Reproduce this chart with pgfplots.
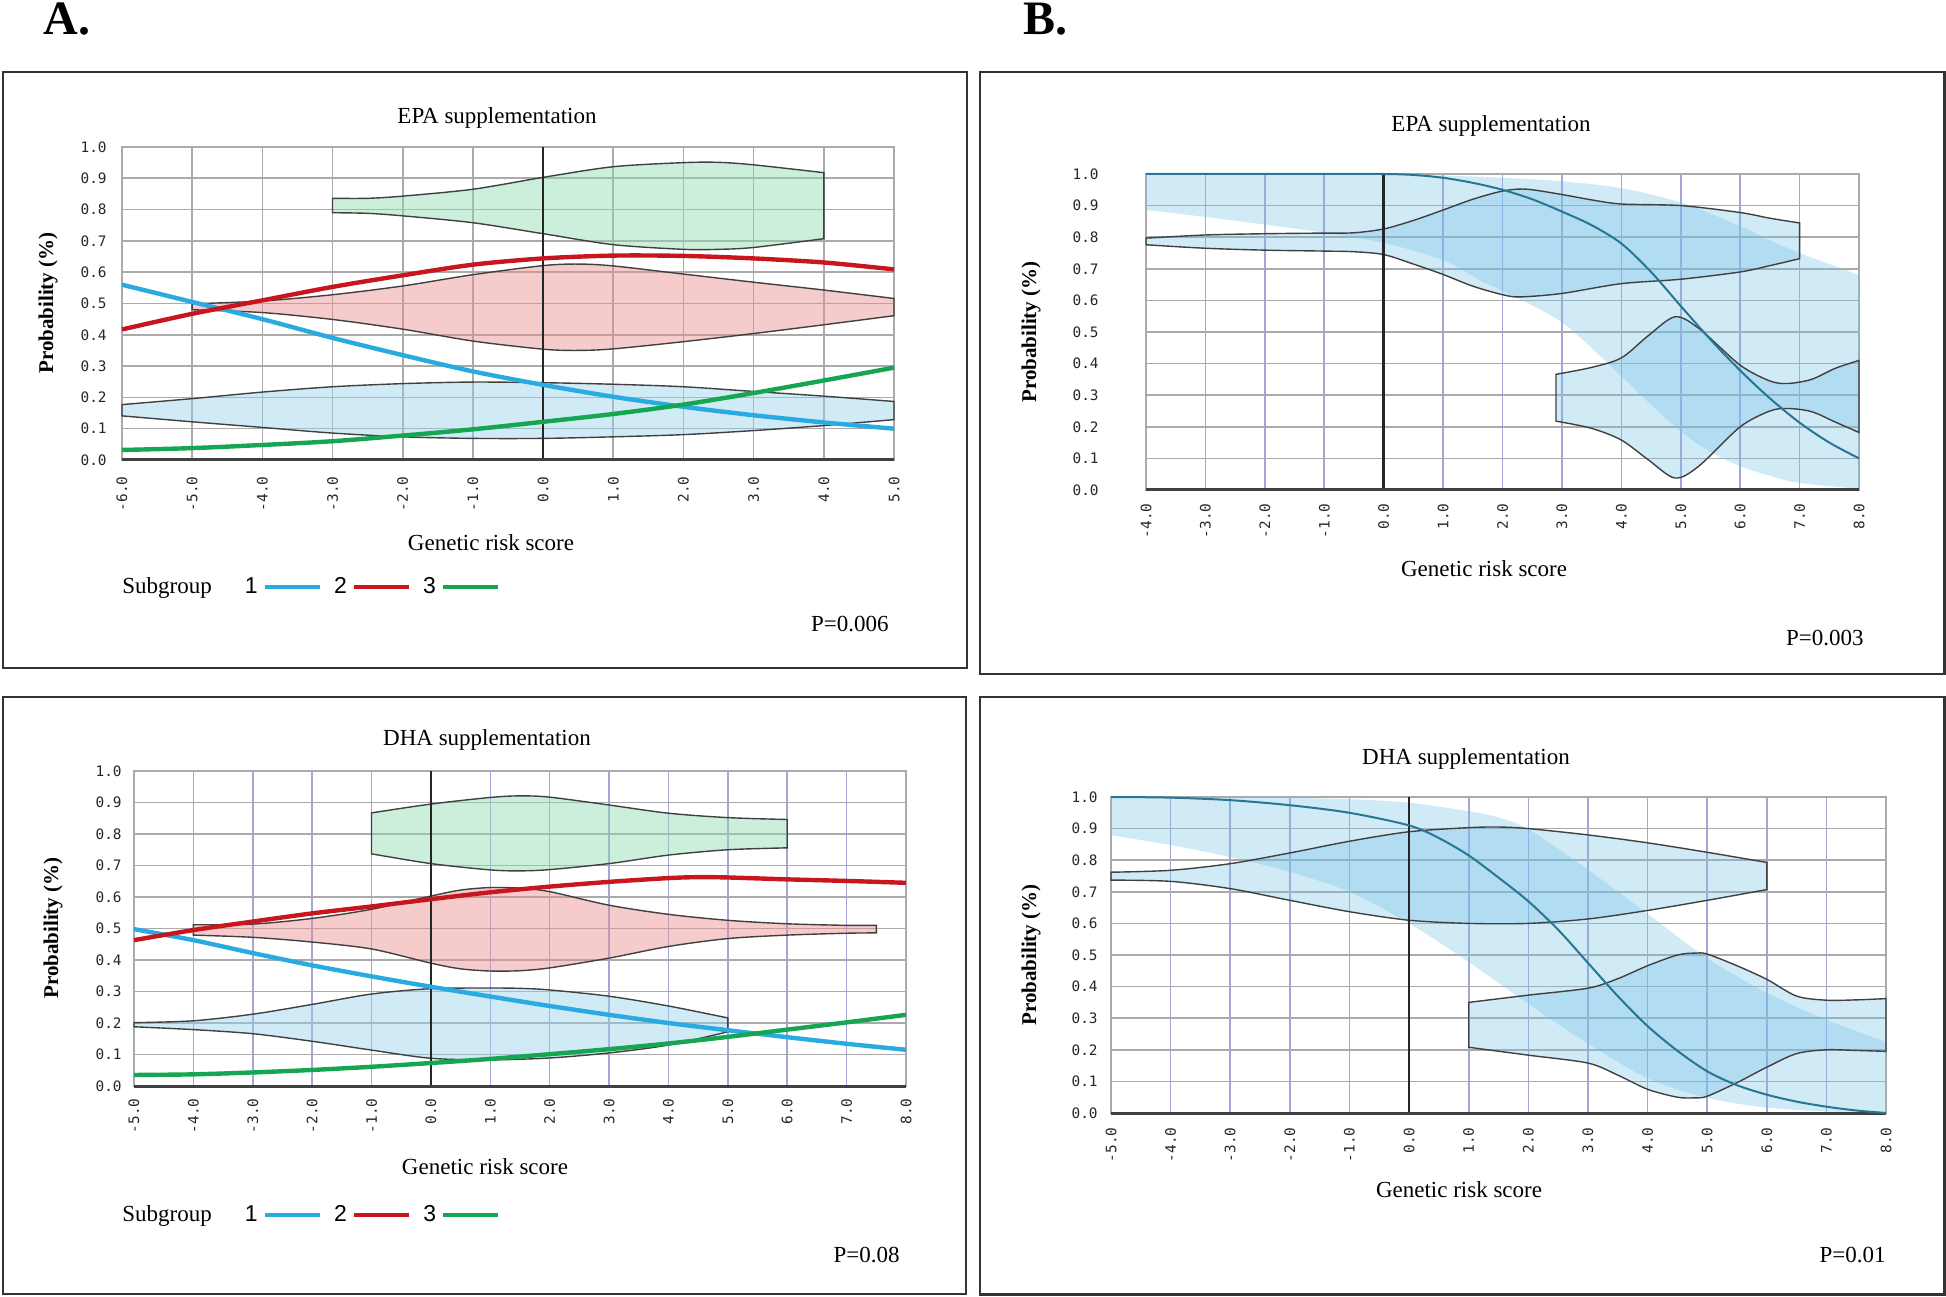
\documentclass[border=0pt]{standalone}
\usepackage{fontspec}
\setmainfont{Liberation Serif}
\setsansfont{Liberation Sans}
\setmonofont{DejaVu Sans Mono}
\usepackage{pgfplots}
\pgfplotsset{compat=1.18}
\usepgfplotslibrary{fillbetween}

\definecolor{sgblue}{RGB}{41,171,226}
\definecolor{sgred}{RGB}{200,22,30}
\definecolor{sggreen}{RGB}{22,165,80}
\definecolor{vgreen}{RGB}{140,220,175}
\definecolor{vred}{RGB}{235,140,140}
\definecolor{vblue}{RGB}{150,210,235}
\definecolor{bband}{RGB}{120,195,230}
\definecolor{bmean}{RGB}{40,118,148}
\definecolor{lav}{RGB}{165,165,215}
\definecolor{grd}{RGB}{170,170,170}

\pgfplotsset{
 panel/.style={scale only axis, clip=false, ymin=0, ymax=1,
  ytick={0,0.1,0.2,0.3,0.4,0.5,0.6,0.7,0.8,0.9,1},
  yticklabels={0.0,0.1,0.2,0.3,0.4,0.5,0.6,0.7,0.8,0.9,1.0},
  grid=major, major tick length=0pt,
  axis line style={draw=grd, line width=0.8pt},
  tick label style={font=\ttfamily\fontsize{7.2}{8}\selectfont, text=black!85},
  xticklabel style={rotate=90, anchor=east, inner sep=0pt},
  yticklabel style={anchor=east, inner sep=0pt},
  y grid style={draw=grd, line width=0.8pt},
  x grid style={draw=lav, line width=0.8pt},
 },
 viol/.style={draw=black!75, line width=0.7pt, fill opacity=0.45},
 bfill/.style={fill=bband, fill opacity=0.35},
 leg/.style={legend columns=-1, legend plot pos=right,
  legend style={draw=none, fill=none, inner sep=0pt, anchor=west,
   font=\fontsize{11.5}{13}\selectfont, nodes={inner sep=0pt},
   /tikz/every odd column/.append style={column sep=2.5pt},
   /tikz/every even column/.append style={column sep=6pt}}},
 legend image code/.code={\draw[#1] (0pt,0pt) -- (27.5pt,0pt);},
}

\begin{document}
\begin{tikzpicture}

% ---------------- A top ----------------
\begin{axis}[panel, leg, at={(61pt,418pt)}, anchor=south west, width=386pt, height=156.5pt,
  xmin=-6, xmax=5, xtick={-6,-5,-4,-3,-2,-1,0,1,2,3,4,5},
  xticklabels={-6.0,-5.0,-4.0,-3.0,-2.0,-1.0,0.0,1.0,2.0,3.0,4.0,5.0},
  x grid style={draw=grd, line width=0.8pt},
  xticklabel shift=8pt, yticklabel shift=7.5pt,
  legend style={at={(0,-0.406)}}]
\addplot[name path=atgu, draw=none, smooth, forget plot] coordinates {(-3,0.836) (-2.5,0.836) (-2,0.843) (-1,0.865) (0,0.903) (1,0.937) (2,0.95) (2.5,0.951) (3,0.943) (4,0.918)};
\addplot[name path=atgl, draw=none, smooth, forget plot] coordinates {(-3,0.79) (-2.5,0.788) (-2,0.78) (-1,0.758) (0,0.723) (1,0.688) (2,0.673) (2.5,0.673) (3,0.679) (4,0.707)};
\addplot[viol, fill=vgreen, forget plot] fill between[of=atgu and atgl];
\addplot[name path=atru, draw=none, smooth, forget plot] coordinates {(-5,0.499) (-4,0.508) (-3,0.528) (-2,0.556) (-1,0.592) (0,0.621) (0.5,0.626) (1,0.62) (2,0.594) (3,0.568) (4,0.543) (5,0.516)};
\addplot[name path=atrl, draw=none, smooth, forget plot] coordinates {(-5,0.48) (-4,0.471) (-3,0.449) (-2,0.418) (-1,0.38) (0,0.354) (0.5,0.35) (1,0.355) (2,0.378) (3,0.404) (4,0.432) (5,0.461)};
\addplot[viol, fill=vred, forget plot] fill between[of=atru and atrl];
\addplot[name path=atbu, draw=none, smooth, forget plot] coordinates {(-6,0.177) (-5,0.196) (-4,0.217) (-3,0.234) (-2,0.244) (-1,0.249) (0,0.247) (1,0.242) (2,0.234) (3,0.219) (4,0.204) (5,0.187)};
\addplot[name path=atbl, draw=none, smooth, forget plot] coordinates {(-6,0.141) (-5,0.122) (-4,0.104) (-3,0.086) (-2,0.074) (-1,0.069) (0,0.069) (1,0.074) (2,0.081) (3,0.094) (4,0.11) (5,0.129)};
\addplot[viol, fill=vblue, forget plot] fill between[of=atbu and atbl];
\addplot[black!85, line width=1.2pt, forget plot] coordinates {(0,0) (0,1)};
\addplot[black!75, line width=1.5pt, forget plot] coordinates {(-6,0) (5,0)};
\addplot[sgblue, line width=2.2pt, smooth, forget plot] coordinates {(-6,0.56) (-5,0.505) (-4,0.45) (-3,0.39) (-2,0.335) (-1,0.283) (0,0.24) (1,0.202) (2,0.17) (3,0.143) (4,0.12) (5,0.10)};
\addplot[sgred, line width=2.2pt, smooth, forget plot] coordinates {(-6,0.417) (-5,0.467) (-4,0.51) (-3,0.553) (-2,0.59) (-1,0.624) (0,0.644) (1,0.653) (2,0.652) (3,0.644) (4,0.631) (5,0.609)};
\addplot[sggreen, line width=2.2pt, smooth, forget plot] coordinates {(-6,0.032) (-5,0.038) (-4,0.048) (-3,0.06) (-2,0.078) (-1,0.098) (0,0.122) (1,0.147) (2,0.177) (3,0.214) (4,0.254) (5,0.295)};
\addlegendimage{empty legend}\addlegendentry{Subgroup\kern8pt}
\addlegendimage{sgblue, line width=2.2pt}\addlegendentry{\sffamily 1}
\addlegendimage{sgred, line width=2.2pt}\addlegendentry{\sffamily 2}
\addlegendimage{sggreen, line width=2.2pt}\addlegendentry{\sffamily 3}
\end{axis}

% ---------------- B top ----------------
\begin{axis}[panel, at={(573pt,403pt)}, anchor=south west, width=356.5pt, height=158pt,
  xmin=-4, xmax=8, xtick={-4,-3,-2,-1,0,1,2,3,4,5,6,7,8},
  xticklabels={-4.0,-3.0,-2.0,-1.0,0.0,1.0,2.0,3.0,4.0,5.0,6.0,7.0,8.0},
  xticklabel shift=6.5pt, yticklabel shift=23.5pt]
\addplot[name path=btbu, draw=none, smooth, forget plot] coordinates {(-4,1) (-3,1) (-2,1) (-1,1) (0,1) (1,0.995) (2,0.988) (3,0.977) (4,0.955) (5,0.91) (6,0.835) (6.5,0.79) (7,0.75) (7.5,0.715) (8,0.68)};
\addplot[name path=btbl, draw=none, smooth, forget plot] coordinates {(-4,0.886) (-3,0.864) (-2,0.84) (-1,0.814) (0,0.782) (1,0.728) (1.65,0.66) (2,0.63) (3,0.53) (4,0.36) (4.5,0.27) (5,0.185) (5.5,0.12) (6,0.075) (6.5,0.045) (7,0.022) (8,0.004)};
\addplot[bfill, draw=none, forget plot] fill between[of=btbu and btbl];
\addplot[name path=btvu, draw=none, smooth, forget plot] coordinates {(-4,0.797) (-3,0.807) (-2,0.811) (-1,0.813) (-0.5,0.814) (0,0.826) (0.5,0.853) (1,0.886) (1.5,0.92) (2,0.946) (2.4,0.952) (3,0.935) (3.5,0.918) (4,0.905) (5,0.9) (6,0.878) (6.5,0.86) (7,0.845)};
\addplot[name path=btvl, draw=none, smooth, forget plot] coordinates {(-4,0.776) (-3,0.765) (-2,0.759) (-1,0.756) (-0.5,0.754) (0,0.745) (0.5,0.715) (1,0.682) (1.5,0.645) (2,0.618) (2.3,0.611) (3,0.622) (4,0.653) (5,0.667) (6,0.69) (6.5,0.71) (7,0.732)};
\addplot[bfill, draw=black!75, line width=0.7pt, forget plot] fill between[of=btvu and btvl];
\addplot[name path=btwu, draw=none, smooth, forget plot] coordinates {(2.9,0.366) (3.5,0.388) (4,0.418) (4.45,0.488) (4.9,0.548) (5.3,0.512) (6,0.395) (6.5,0.345) (6.8,0.337) (7.2,0.35) (7.6,0.385) (8,0.41)};
\addplot[name path=btwl, draw=none, smooth, forget plot] coordinates {(2.9,0.218) (3.5,0.195) (4,0.158) (4.45,0.096) (4.9,0.038) (5.3,0.075) (6,0.2) (6.5,0.25) (6.8,0.258) (7.2,0.248) (7.6,0.215) (8,0.182)};
\addplot[bfill, draw=black!75, line width=0.7pt, forget plot] fill between[of=btwu and btwl];
\addplot[black!85, line width=1.2pt, forget plot] coordinates {(0,0) (0,1)};
\addplot[black!75, line width=1.5pt, forget plot] coordinates {(-4,0) (8,0)};
\addplot[bmean, line width=1pt, smooth, forget plot] coordinates {(-4,1) (-3,1) (-2,1) (-1,1) (0,1) (0.5,0.997) (1,0.988) (1.5,0.972) (2,0.95) (2.5,0.92) (3,0.881) (3.5,0.838) (4,0.78) (4.5,0.69) (5,0.582) (5.5,0.476) (6,0.378) (6.5,0.29) (7,0.213) (7.5,0.15) (8,0.1)};
\end{axis}

% ---------------- A bottom ----------------
\begin{axis}[panel, leg, at={(67pt,105pt)}, anchor=south west, width=386pt, height=157.5pt,
  xmin=-5, xmax=8, xtick={-5,-4,-3,-2,-1,0,1,2,3,4,5,6,7,8},
  xticklabels={-5.0,-4.0,-3.0,-2.0,-1.0,0.0,1.0,2.0,3.0,4.0,5.0,6.0,7.0,8.0},
  xticklabel shift=6pt, yticklabel shift=6pt,
  legend style={at={(-0.0155,-0.41)}}]
\addplot[name path=abgu, draw=none, smooth, forget plot] coordinates {(-1,0.867) (0,0.895) (1,0.916) (1.5,0.921) (2,0.917) (3,0.892) (4,0.866) (5,0.852) (6,0.846)};
\addplot[name path=abgl, draw=none, smooth, forget plot] coordinates {(-1,0.737) (0,0.706) (1,0.686) (1.5,0.683) (2,0.687) (3,0.706) (4,0.733) (5,0.75) (6,0.756)};
\addplot[viol, fill=vgreen, forget plot] fill between[of=abgu and abgl];
\addplot[name path=abru, draw=none, smooth, forget plot] coordinates {(-4,0.512) (-3,0.514) (-2,0.532) (-1,0.561) (0,0.603) (0.5,0.622) (1,0.63) (1.5,0.628) (2,0.617) (3,0.574) (4,0.545) (5,0.526) (6,0.515) (7,0.51) (7.5,0.51)};
\addplot[name path=abrl, draw=none, smooth, forget plot] coordinates {(-4,0.479) (-3,0.472) (-2,0.457) (-1,0.435) (0,0.39) (0.5,0.372) (1,0.365) (1.5,0.366) (2,0.375) (3,0.406) (4,0.443) (5,0.468) (6,0.479) (7,0.485) (7.5,0.486)};
\addplot[viol, fill=vred, forget plot] fill between[of=abru and abrl];
\addplot[name path=abbu, draw=none, smooth, forget plot] coordinates {(-5,0.201) (-4,0.207) (-3,0.228) (-2,0.259) (-1,0.292) (0,0.309) (1,0.311) (1.5,0.31) (2,0.305) (3,0.285) (4,0.254) (5,0.216)};
\addplot[name path=abbl, draw=none, smooth, forget plot] coordinates {(-5,0.188) (-4,0.179) (-3,0.166) (-2,0.142) (-1,0.114) (0,0.088) (1,0.083) (2,0.089) (3,0.105) (4,0.13) (5,0.172)};
\addplot[viol, fill=vblue, forget plot] fill between[of=abbu and abbl];
\addplot[black!85, line width=1.2pt, forget plot] coordinates {(0,0) (0,1)};
\addplot[black!75, line width=1.5pt, forget plot] coordinates {(-5,0) (8,0)};
\addplot[sgblue, line width=2.2pt, smooth, forget plot] coordinates {(-5,0.498) (-4,0.463) (-3,0.422) (-2,0.383) (-1,0.348) (0,0.315) (1,0.284) (2,0.254) (3,0.226) (4,0.2) (5,0.177) (6,0.155) (7,0.134) (8,0.115)};
\addplot[sgred, line width=2.2pt, smooth, forget plot] coordinates {(-5,0.463) (-4,0.495) (-3,0.522) (-2,0.548) (-1,0.57) (0,0.593) (1,0.615) (2,0.633) (3,0.648) (4,0.66) (4.5,0.663) (5,0.662) (6,0.656) (7,0.651) (8,0.645)};
\addplot[sggreen, line width=2.2pt, smooth, forget plot] coordinates {(-5,0.035) (-4,0.037) (-3,0.043) (-2,0.051) (-1,0.061) (0,0.073) (1,0.086) (2,0.101) (3,0.117) (4,0.135) (5,0.156) (6,0.179) (7,0.202) (8,0.226)};
\addlegendimage{empty legend}\addlegendentry{Subgroup\kern8pt}
\addlegendimage{sgblue, line width=2.2pt}\addlegendentry{\sffamily 1}
\addlegendimage{sgred, line width=2.2pt}\addlegendentry{\sffamily 2}
\addlegendimage{sggreen, line width=2.2pt}\addlegendentry{\sffamily 3}
\end{axis}

% ---------------- B bottom ----------------
\begin{axis}[panel, at={(555.5pt,91.5pt)}, anchor=south west, width=387.5pt, height=158pt,
  xmin=-5, xmax=8, xtick={-5,-4,-3,-2,-1,0,1,2,3,4,5,6,7,8},
  xticklabels={-5.0,-4.0,-3.0,-2.0,-1.0,0.0,1.0,2.0,3.0,4.0,5.0,6.0,7.0,8.0},
  xticklabel shift=7pt, yticklabel shift=6.5pt]
\addplot[name path=bbbu, draw=none, smooth, forget plot] coordinates {(-5,1) (-4,1) (-3,0.999) (-2,0.997) (-1,0.993) (0,0.982) (1,0.955) (1.5,0.935) (2,0.898) (3,0.77) (4,0.63) (5,0.49) (6,0.38) (7,0.295) (8,0.225)};
\addplot[name path=bbbl, draw=none, smooth, forget plot] coordinates {(-5,0.879) (-4,0.848) (-3,0.81) (-2,0.763) (-1,0.7) (0,0.6) (1,0.478) (2,0.345) (3,0.22) (4,0.11) (5,0.048) (6,0.017) (7,0.005) (8,0.0)};
\addplot[bfill, draw=none, forget plot] fill between[of=bbbu and bbbl];
\addplot[name path=bbvu, draw=none, smooth, forget plot] coordinates {(-5,0.762) (-4,0.768) (-3,0.789) (-2,0.823) (-1,0.86) (0,0.89) (1,0.903) (1.5,0.905) (2,0.9) (3,0.88) (4,0.855) (5,0.825) (6,0.793)};
\addplot[name path=bbvl, draw=none, smooth, forget plot] coordinates {(-5,0.737) (-4,0.733) (-3,0.71) (-2,0.673) (-1,0.637) (0,0.61) (1,0.6) (2,0.6) (3,0.614) (4,0.641) (5,0.673) (6,0.707)};
\addplot[bfill, draw=black!75, line width=0.7pt, forget plot] fill between[of=bbvu and bbvl];
\addplot[name path=bbwu, draw=none, smooth, forget plot] coordinates {(1,0.35) (2,0.373) (3,0.395) (3.5,0.425) (4,0.466) (4.5,0.5) (4.8,0.506) (5,0.503) (5.5,0.466) (6,0.423) (6.5,0.37) (7,0.357) (7.5,0.358) (8,0.362)};
\addplot[name path=bbwl, draw=none, smooth, forget plot] coordinates {(1,0.208) (2,0.183) (3,0.158) (3.5,0.12) (4,0.075) (4.5,0.05) (4.8,0.048) (5,0.053) (5.5,0.096) (6,0.145) (6.5,0.188) (7,0.2) (7.5,0.198) (8,0.195)};
\addplot[bfill, draw=black!75, line width=0.7pt, forget plot] fill between[of=bbwu and bbwl];
\addplot[black!85, line width=1.2pt, forget plot] coordinates {(0,0) (0,1)};
\addplot[black!75, line width=1.5pt, forget plot] coordinates {(-5,0) (8,0)};
\addplot[bmean, line width=1pt, smooth, forget plot] coordinates {(-5,1) (-4,0.998) (-3,0.99) (-2,0.974) (-1,0.95) (0,0.91) (0.5,0.87) (1,0.815) (1.5,0.745) (2,0.67) (2.5,0.58) (3,0.475) (3.5,0.37) (4,0.275) (4.5,0.197) (5,0.132) (5.5,0.088) (6,0.058) (6.5,0.036) (7,0.02) (7.5,0.008) (8,0.0)};
\end{axis}

% ---------------- frames and texts ----------------
\draw[black!80, line width=1.2pt] (1.5pt,314pt) rectangle (483.5pt,612pt);
\draw[black!80, line width=1.2pt] (490pt,311pt) rectangle (972.3pt,612pt);
\draw[black!80, line width=1.2pt] (1.5pt,1pt) rectangle (483pt,299.5pt);
\draw[black!80, line width=1.2pt] (490pt,0.8pt) rectangle (972.3pt,299.5pt);

\node[anchor=base west, inner sep=0pt, font=\bfseries\fontsize{24}{26}\selectfont] at (21.5pt,630.5pt) {A.};
\node[anchor=base west, inner sep=0pt, font=\bfseries\fontsize{24}{26}\selectfont] at (511.5pt,630.5pt) {B.};

\begin{scope}[every node/.style={font=\fontsize{11.5}{13}\selectfont, inner sep=0pt}]
\node at (248.5pt,589pt) {EPA supplementation};
\node at (745.5pt,585.2pt) {EPA supplementation};
\node at (243.5pt,278pt) {DHA supplementation};
\node at (733pt,268.5pt) {DHA supplementation};
\node at (245.5pt,376.5pt) {Genetic risk score};
\node at (742pt,363.5pt) {Genetic risk score};
\node at (242.5pt,64.5pt) {Genetic risk score};
\node at (729.5pt,53pt) {Genetic risk score};
\node[anchor=east] at (444.5pt,336pt) {P=0.006};
\node[anchor=east] at (932pt,329pt) {P=0.003};
\node[anchor=east] at (450pt,20.5pt) {P=0.08};
\node[anchor=east] at (943pt,20.5pt) {P=0.01};
\end{scope}
\begin{scope}[every node/.style={font=\bfseries\fontsize{10.5}{12}\selectfont, inner sep=0pt, rotate=90}]
\node at (24pt,496.5pt) {Probability (\%)};
\node at (515.5pt,482pt) {Probability (\%)};
\node at (26.5pt,184pt) {Probability (\%)};
\node at (515.5pt,170.5pt) {Probability (\%)};
\end{scope}
\pgfresetboundingbox
\useasboundingbox (0,0) rectangle (973pt,648pt);
\end{tikzpicture}
\end{document}
